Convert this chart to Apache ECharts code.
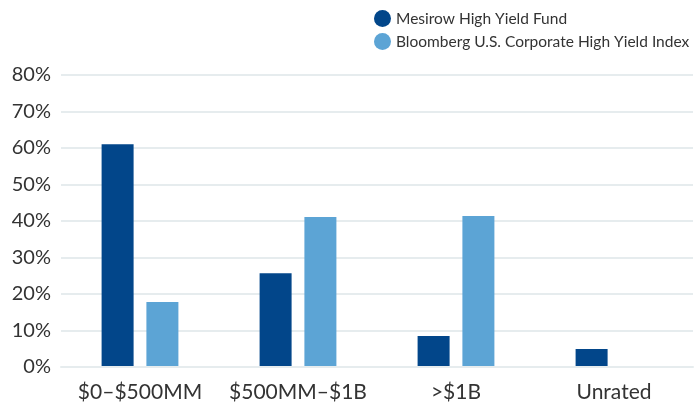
<!DOCTYPE html>
<html>
<head>
<meta charset="utf-8">
<script src="https://cdn.jsdelivr.net/npm/echarts@6/dist/echarts.min.js"></script>
<style>
  html, body { margin: 0; padding: 0; background: #fff; }
  #chart { width: 697px; height: 416px; }
</style>
</head>
<body>
<div id="chart"></div>
<script>
// categories and values (percent)
var categories = ['$0–$500MM', '$500MM–$1B', '>$1B', 'Unrated'];
var fundValues = [61.0, 25.7, 8.5, 4.9];
var indexValues = [17.8, 41.1, 41.4, 0];
var seriesNames = ['Mesirow High Yield Fund', 'Bloomberg U.S. Corporate High Yield Index'];

var chart = echarts.init(document.getElementById('chart'));

chart.setOption({
    animation: false,
    textStyle: { fontFamily: 'Lato, "Open Sans", sans-serif' },
    legend: {
        orient: 'vertical',
        left: 369,
        top: 5,
        itemWidth: 17,
        itemHeight: 17,
        itemGap: 6,
        icon: 'circle',
        textStyle: { fontSize: 15.5, color: '#333', fontFamily: 'Lato' },
        data: seriesNames
    },
    grid: {
        left: 61,
        right: 4,
        top: 75,
        bottom: 49
    },
    xAxis: {
        type: 'category',
        data: categories,
        z: 3,
        axisLine: { show: true, lineStyle: { color: '#e6ecee', width: 2 } },
        axisTick: { show: false },
        axisLabel: { fontSize: 21, color: '#333', margin: 15, interval: 0, fontFamily: 'Lato' }
    },
    yAxis: {
        type: 'value',
        min: 0,
        max: 80,
        interval: 10,
        axisLine: { show: false },
        axisTick: { show: false },
        axisLabel: { fontSize: 20, color: '#333', margin: 10, formatter: '{value}%', fontFamily: 'Lato' },
        splitLine: { lineStyle: { color: '#e6ecee', width: 2 } }
    },
    series: [
        {
            name: seriesNames[0],
            type: 'bar',
            data: fundValues,
            barWidth: 32,
            barGap: '40%',
            itemStyle: { color: '#02468a' }
        },
        {
            name: seriesNames[1],
            type: 'bar',
            data: indexValues,
            barWidth: 32,
            itemStyle: { color: '#5ca4d5' }
        }
    ]
});
</script>
</body>
</html>
